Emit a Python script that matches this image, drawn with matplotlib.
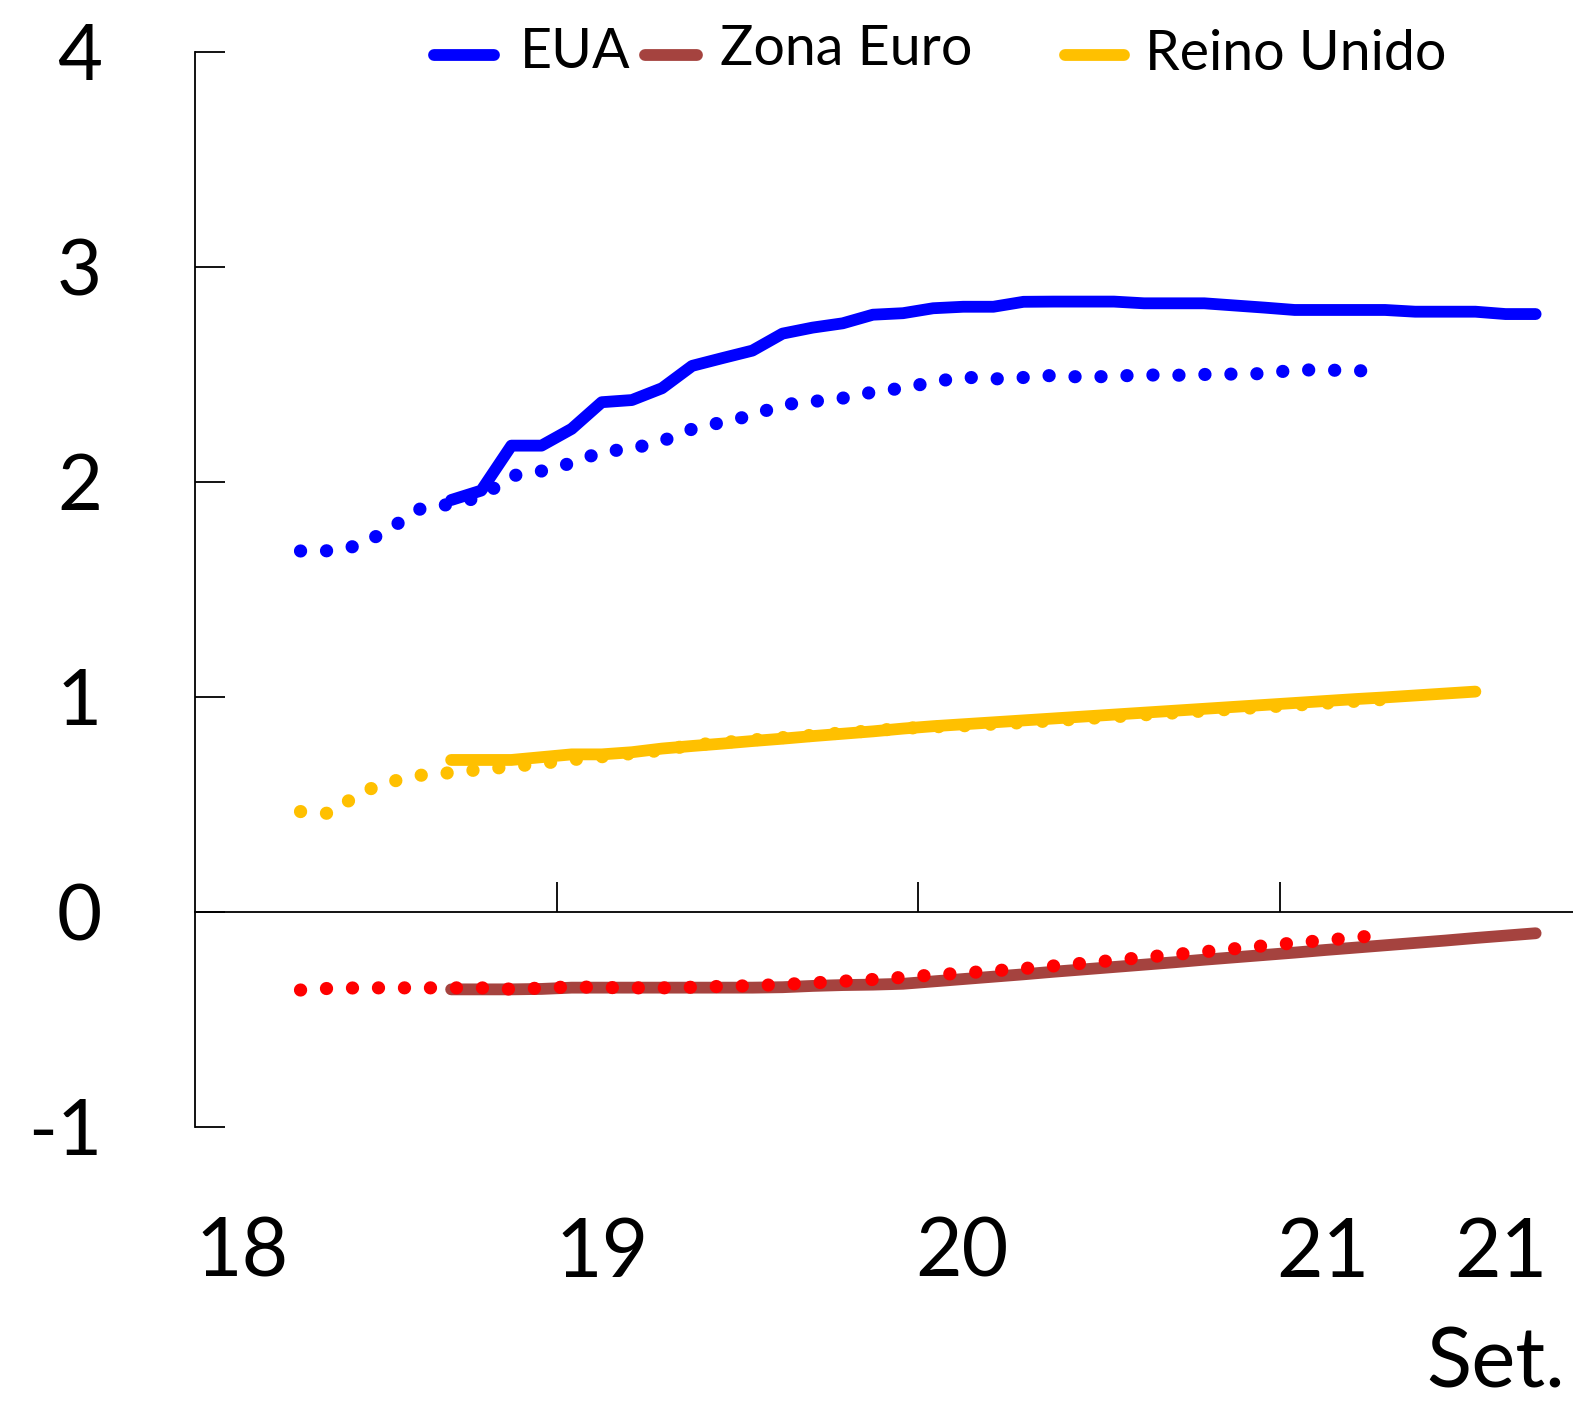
import numpy as np
import matplotlib
matplotlib.use("Agg")
import matplotlib.pyplot as plt
from matplotlib.lines import Line2D

plt.rcParams['font.family'] = ['Lato', 'DejaVu Sans']

# months counted from the y axis (jan/2018 = 0)
t_fut = np.arange(37) + 3.5   # market expectations (dotted)
t_obs = np.arange(37) + 8.5   # current curves (solid)
t_obs_ru = np.arange(35) + 8.5

eua = [1.916, 1.960, 2.169, 2.169, 2.247, 2.371, 2.381, 2.436, 2.540, 2.576,
       2.611, 2.690, 2.718, 2.738, 2.778, 2.785, 2.808, 2.815, 2.815, 2.838,
       2.839, 2.839, 2.839, 2.831, 2.831, 2.831, 2.821, 2.811, 2.800, 2.800,
       2.800, 2.800, 2.792, 2.792, 2.792, 2.781, 2.781]
eua_fut = [1.679, 1.680, 1.706, 1.786, 1.877, 1.897, 1.930, 2.028, 2.051, 2.088,
           2.140, 2.155, 2.190, 2.246, 2.278, 2.310, 2.359, 2.374, 2.390, 2.418,
           2.437, 2.465, 2.488, 2.479, 2.486, 2.496, 2.487, 2.492, 2.498, 2.496,
           2.500, 2.502, 2.504, 2.521, 2.521, 2.517, 2.518]
ze = [-0.360, -0.360, -0.360, -0.358, -0.352, -0.352, -0.352, -0.352, -0.352, -0.352,
      -0.352, -0.350, -0.344, -0.340, -0.338, -0.334, -0.323, -0.312, -0.301, -0.290,
      -0.278, -0.267, -0.256, -0.245, -0.234, -0.222, -0.211, -0.200, -0.189, -0.177,
      -0.166, -0.155, -0.144, -0.133, -0.121, -0.110, -0.099]
ze_fut = [-0.363, -0.355, -0.353, -0.353, -0.353, -0.353, -0.353, -0.359, -0.354, -0.348,
          -0.351, -0.353, -0.353, -0.350, -0.346, -0.343, -0.337, -0.330, -0.322, -0.314,
          -0.304, -0.293, -0.284, -0.274, -0.263, -0.251, -0.238, -0.225, -0.211, -0.198,
          -0.185, -0.171, -0.157, -0.144, -0.132, -0.119, -0.106]
ru = [0.707, 0.707, 0.707, 0.720, 0.733, 0.733, 0.743, 0.760, 0.772, 0.783,
      0.795, 0.806, 0.818, 0.829, 0.840, 0.853, 0.864, 0.873, 0.882, 0.891,
      0.900, 0.909, 0.918, 0.927, 0.936, 0.945, 0.954, 0.963, 0.972, 0.981,
      0.990, 0.998, 1.007, 1.016, 1.025]
ru_fut = [0.467, 0.458, 0.557, 0.606, 0.636, 0.648, 0.663, 0.676, 0.691, 0.708,
          0.722, 0.737, 0.752, 0.776, 0.788, 0.800, 0.811, 0.822, 0.833, 0.843,
          0.854, 0.861, 0.866, 0.874, 0.881, 0.890, 0.899, 0.908, 0.917, 0.926,
          0.935, 0.944, 0.953, 0.962, 0.971, 0.980, 0.989]

yticks = [-1, 0, 1, 2, 3, 4]
ytick_labels = ["-1", "0", "1", "2", "3", "4"]
xticks = [12, 24, 36]
xlabels = ["18", "19", "20", "21", "21"]
xlabel_pos = [0, 11.95, 23.9, 35.9, 41.8]

c_eua = "#0000FF"
c_ze = "#A5433F"
c_ze_fut = "#FF0000"
c_ru = "#FFC000"

lw = 8.5
lw_dot = 9.5
dots = (0, (0.01, 1.96))

fig = plt.figure(figsize=(15.73, 14.01), dpi=100)
ax = fig.add_axes([0.124, 0.1956, 0.876, 0.7673])

ax.plot(t_obs, eua, color=c_eua, lw=lw, solid_capstyle="round", solid_joinstyle="round")
ax.plot(t_fut, eua_fut, color=c_eua, lw=lw_dot, linestyle=dots, dash_capstyle="round")
ax.plot(t_obs, ze, color=c_ze, lw=lw, solid_capstyle="round", solid_joinstyle="round")
ax.plot(t_fut, ze_fut, color=c_ze_fut, lw=lw_dot, linestyle=dots, dash_capstyle="round")
ax.plot(t_fut, ru_fut, color=c_ru, lw=lw_dot, linestyle=dots, dash_capstyle="round")
ax.plot(t_obs_ru, ru, color=c_ru, lw=lw, solid_capstyle="round", solid_joinstyle="round")

ax.set_xlim(0, 45.74)
ax.set_ylim(-1, 4)
ax.spines["top"].set_visible(False)
ax.spines["right"].set_visible(False)
ax.spines["bottom"].set_position(("data", 0))
ax.spines["bottom"].set_linewidth(1.3)
ax.spines["left"].set_linewidth(1.3)

ax.set_xticks(xticks)
ax.set_xticklabels([])
ax.tick_params(axis="x", direction="in", length=21.5, width=1.3)
ax.set_yticks(yticks)
ax.set_yticklabels(ytick_labels, fontsize=56)
ax.tick_params(axis="y", direction="in", length=21.5, width=1.3, pad=67)

xt = ax.get_xaxis_transform()
for lab, pos in zip(xlabels, xlabel_pos):
    ax.text(pos, -0.1395, lab, transform=xt, ha="left", va="baseline", fontsize=58)
ax.text(45.48, -0.2428, "Set.", transform=xt, ha="right", va="baseline", fontsize=60)

# legend across the top
leg = [("EUA", c_eua, 434, 494, 520, 68),
       ("Zona Euro", c_ze, 645, 697, 720, 65),
       ("Reino Unido", c_ru, 1065, 1124, 1145, 70)]
W, H = 1573, 1401
for name, col, x0, x1, xt0, base in leg:
    fig.add_artist(Line2D([x0 / W, x1 / W], [1 - 55 / H, 1 - 55 / H], color=col,
                          lw=lw, solid_capstyle="round", transform=fig.transFigure))
    fig.text(xt0 / W, 1 - base / H, name, ha="left", va="baseline", fontsize=40)

fig.savefig("out.png", dpi=100)
